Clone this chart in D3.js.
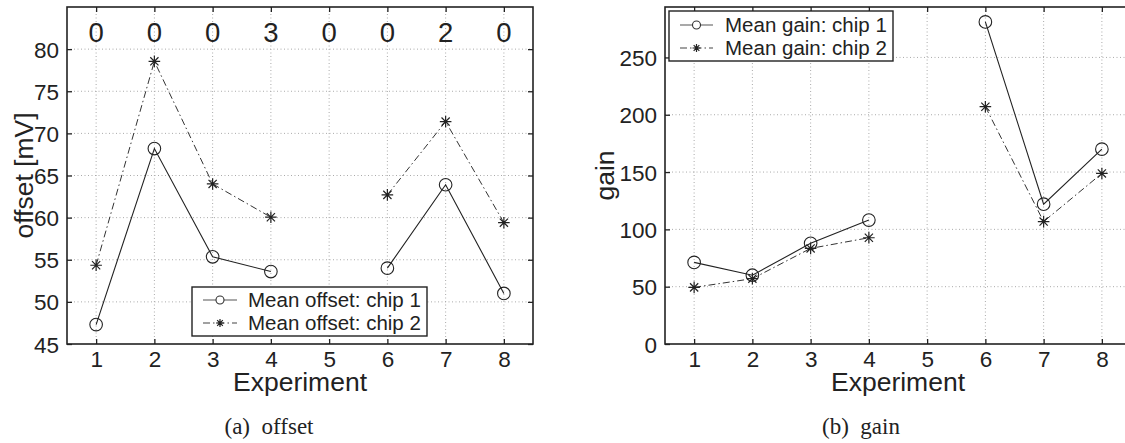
<!DOCTYPE html>
<html><head><meta charset="utf-8">
<script src="https://cdn.jsdelivr.net/npm/d3@7"></script>
<style>
body{margin:0;background:#fff;}
svg{display:block;}
text{font-family:"Liberation Sans",Arial,Helvetica,sans-serif;fill:#222;}
</style></head><body>
<svg id="c" width="1125" height="443"></svg>
<script>
const experiments = [1,2,3,4,5,6,7,8];
const offsetChip1 = [47.3, 68.2, 55.35, 53.6, null, 54.0, 63.9, 51.0];
const offsetChip2 = [54.35, 78.55, 64.0, 60.05, null, 62.7, 71.4, 59.4];
const failCounts = ["0","0","0","3","0","0","2","0"];
const gainChip1 = [71.2, 60.0, 87.8, 108.1, null, 281.0, 122.0, 170.0];
const gainChip2 = [49.4, 57.0, 83.4, 92.7, null, 207.0, 106.8, 148.8];
const offsetTicks = [45,50,55,60,65,70,75,80];
const gainTicks = [0,50,100,150,200,250];
const legendOffset = ["Mean offset: chip 1","Mean offset: chip 2"];
const legendGain = ["Mean gain: chip 1","Mean gain: chip 2"];

const svg = d3.select("#c");
const INK = "#222";

function starPath(r){
  let p="";
  for(let k=0;k<4;k++){
    const a=k*Math.PI/4;
    const dx=r*Math.cos(a), dy=r*Math.sin(a);
    p+=`M${-dx},${-dy}L${dx},${dy}`;
  }
  return p;
}

function panel(cfg){
  const g = svg.append("g");
  const x = d3.scaleLinear().domain([0.5,8.5]).range([cfg.x0,cfg.x1]);
  const y = d3.scaleLinear().domain(cfg.ydom).range([cfg.y1,cfg.y0]);
  const X0=cfg.x0, X1=cfg.x1, Y0=cfg.y0, Y1=cfg.y1;
  const cid = "clip"+cfg.id;
  svg.append("clipPath").attr("id",cid).append("rect").attr("x",X0).attr("y",Y0).attr("width",X1-X0).attr("height",Y1-Y0);
  const grid = g.append("g").attr("stroke","#aaa").attr("stroke-width",1).attr("stroke-dasharray","1,2.5");
  grid.selectAll(".gx").data(experiments).enter().append("line")
    .attr("x1",d=>x(d)).attr("x2",d=>x(d)).attr("y1",Y0).attr("y2",Y1);
  grid.selectAll(".gy").data(cfg.ticks.slice(1)).enter().append("line")
    .attr("x1",X0).attr("x2",X1).attr("y1",d=>y(d)).attr("y2",d=>y(d));
  const ax = g.append("g").attr("transform",`translate(0,${Y1})`).call(d3.axisBottom(x).tickValues(experiments).tickSize(-5).tickPadding(7).tickFormat(d3.format("d")));
  const axT = g.append("g").attr("transform",`translate(0,${Y0})`).call(d3.axisTop(x).tickValues(experiments).tickSize(-5).tickFormat(""));
  const ay = g.append("g").attr("transform",`translate(${X0},0)`).call(d3.axisLeft(y).tickValues(cfg.ticks).tickSize(-5).tickPadding(8).tickFormat(d3.format("d")));
  const ayR = g.append("g").attr("transform",`translate(${X1},0)`).call(d3.axisRight(y).tickValues(cfg.ticks).tickSize(-5).tickFormat(""));
  [ax,axT,ay,ayR].forEach(a=>{
    a.select(".domain").remove();
    a.selectAll("line").attr("stroke",INK).attr("stroke-width",1.3);
    a.selectAll("text").attr("font-size",22.5).attr("fill",INK).attr("font-family","Liberation Sans, Arial, sans-serif");
  });
  ay.selectAll("text").attr("dy","0.36em");
  ax.selectAll("text").attr("dy","0.71em");
  g.append("rect").attr("x",X0).attr("y",Y0).attr("width",X1-X0).attr("height",Y1-Y0)
    .attr("fill","none").attr("stroke",INK).attr("stroke-width",1.6);
  const data = g.append("g").attr("clip-path",`url(#${cid})`);
  const line = d3.line().defined(d=>d[1]!==null).x(d=>x(d[0])).y(d=>y(d[1]));
  const s1 = experiments.map((e,i)=>[e,cfg.s1[i]]);
  const s2 = experiments.map((e,i)=>[e,cfg.s2[i]]);
  data.append("path").attr("d",line(s2)).attr("fill","none").attr("stroke","#333").attr("stroke-width",1).attr("stroke-dasharray","7,3,1.5,3");
  data.append("path").attr("d",line(s1)).attr("fill","none").attr("stroke","#222").attr("stroke-width",1.1);
  data.selectAll(".m1").data(s1.filter(d=>d[1]!==null)).enter().append("circle")
    .attr("cx",d=>x(d[0])).attr("cy",d=>y(d[1])).attr("r",6.3).attr("fill","none").attr("stroke","#222").attr("stroke-width",1.1);
  data.selectAll(".m2").data(s2.filter(d=>d[1]!==null)).enter().append("path")
    .attr("transform",d=>`translate(${x(d[0])},${y(d[1])})`).attr("d",starPath(5.8)).attr("stroke","#222").attr("stroke-width",1.2);
  svg.append("text").attr("x",cfg.xlabX).attr("y",391).attr("text-anchor","middle").attr("font-size",26.5).text("Experiment");
  svg.append("text").attr("transform",`translate(${cfg.ylabX},${(Y0+Y1)/2}) rotate(-90)`).attr("text-anchor","middle").attr("font-size",26.5).text(cfg.ylab);
  svg.append("text").attr("x",cfg.capX).attr("y",434).attr("text-anchor","middle").attr("font-size",23)
    .style("font-family","'Liberation Serif', 'Times New Roman', serif").attr("xml:space","preserve").text(cfg.cap);
  const L = cfg.leg;
  const lg = g.append("g");
  lg.append("rect").attr("x",L.x0).attr("y",L.y0).attr("width",L.x1-L.x0).attr("height",L.y1-L.y0).attr("fill","#fff").attr("stroke",INK).attr("stroke-width",1.4);
  L.labels.forEach((t,i)=>{
    const yy = L.rows[i];
    lg.append("line").attr("x1",L.lx0).attr("x2",L.lx1).attr("y1",yy).attr("y2",yy).attr("stroke",i?"#444":"#555").attr("stroke-width",1.1)
      .attr("stroke-dasharray",i?"7,3,1.5,3":null);
    const mx=(L.lx0+L.lx1)/2;
    if(i===0) lg.append("circle").attr("cx",mx).attr("cy",yy).attr("r",4).attr("fill","#fff").attr("stroke","#333").attr("stroke-width",1.1);
    else lg.append("path").attr("transform",`translate(${mx},${yy})`).attr("d",starPath(4)).attr("stroke","#222").attr("stroke-width",1.2);
    lg.append("text").attr("x",L.tx).attr("y",yy).attr("dy","0.36em").attr("font-size",20.5).text(t);
  });
  return {g,x,y};
}

const A = panel({id:"a",x0:67,x1:533,y0:7,y1:344,ydom:[45,85],ticks:offsetTicks,s1:offsetChip1,s2:offsetChip2,
  ylab:"offset [mV]",ylabX:33,xlabX:300,cap:"(a)  offset",capX:269,
  leg:{x0:192,x1:427,y0:287,y1:336,rows:[300,323],lx0:203,lx1:237,tx:248,labels:legendOffset}});
A.g.selectAll(".fc").data(experiments).enter().append("text")
  .attr("x",d=>A.x(d)).attr("y",42).attr("text-anchor","middle").attr("font-size",27.5).text((d,i)=>failCounts[i]);

const B = panel({id:"b",x0:665,x1:1131,y0:7,y1:344,ydom:[0,294],ticks:gainTicks,s1:gainChip1,s2:gainChip2,
  ylab:"gain",ylabX:614,xlabX:898,cap:"(b)  gain",capX:861,
  leg:{x0:669,x1:893,y0:11,y1:61,rows:[25,48],lx0:680,lx1:713,tx:725,labels:legendGain}});
</script></body></html>
